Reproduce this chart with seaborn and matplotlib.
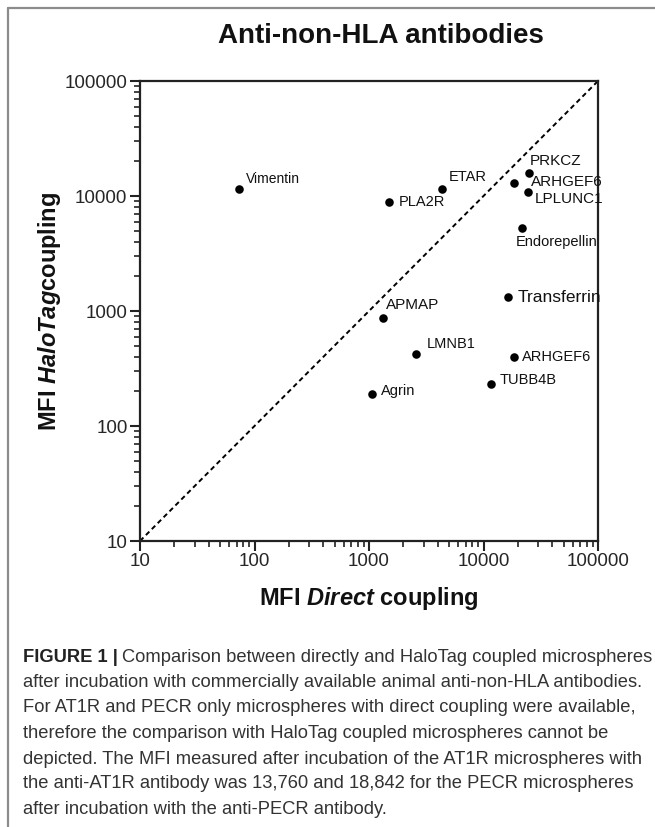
import numpy as np
import pandas as pd
import seaborn as sns
import matplotlib.pyplot as plt
from matplotlib.ticker import LogLocator, FuncFormatter, NullFormatter
from matplotlib.lines import Line2D

# data (MFI values)
proteins = ["Vimentin", "PLA2R", "ETAR", "PRKCZ", "ARHGEF6", "LPLUNC1", "Endorepellin",
            "Transferrin", "APMAP", "LMNB1", "ARHGEF6", "TUBB4B", "Agrin"]
mfi_direct = [73, 1500, 4300, 25100, 18600, 24300, 21800, 16300, 1330, 2580, 18600, 11600, 1060]
mfi_halotag = [11500, 8800, 11500, 15700, 12900, 10800, 5240, 1320, 870, 420, 396, 230, 191]
axis_ticks = [10, 100, 1000, 10000, 100000]

# label placement (pixel offsets from the point)
label_offsets = [(7, 10), (10, 0), (7, 12), (0, 12), (17, 1), (7, -7), (-7, -14),
                 (10, 0), (3, 13), (11, 10), (8, 0), (9, 4), (9, 3)]
label_sizes = [10, 10.5, 10.5, 11, 11, 11, 10.5, 12.5, 11, 10.5, 10.5, 10.5, 10.5]

caption = [
    "Comparison between directly and HaloTag coupled microspheres",
    "after incubation with commercially available animal anti-non-HLA antibodies.",
    "For AT1R and PECR only microspheres with direct coupling were available,",
    "therefore the comparison with HaloTag coupled microspheres cannot be",
    "depicted. The MFI measured after incubation of the AT1R microspheres with",
    "the anti-AT1R antibody was 13,760 and 18,842 for the PECR microspheres",
    "after incubation with the anti-PECR antibody.",
]

sns.set_style("ticks")
plt.rcParams['font.family'] = ['Liberation Sans', 'DejaVu Sans']
plt.rcParams['mathtext.fontset'] = 'custom'
plt.rcParams['mathtext.rm'] = 'Liberation Sans'
plt.rcParams['mathtext.bf'] = 'Liberation Sans:bold'
plt.rcParams['mathtext.bfit'] = 'Liberation Sans:bold:italic'

W, H = 655, 827
fig = plt.figure(figsize=(W / 100, H / 100), dpi=100)
ax = fig.add_axes([140 / W, 1 - 541 / H, 458 / W, 460 / H])

df = pd.DataFrame({"protein": proteins, "direct": mfi_direct, "halotag": mfi_halotag})
sns.scatterplot(data=df, x="direct", y="halotag", color="black", s=38,
                linewidth=0, ax=ax, zorder=3)
ax.set_xscale("log")
ax.set_yscale("log")
ax.set_xlim(axis_ticks[0], axis_ticks[-1])
ax.set_ylim(axis_ticks[0], axis_ticks[-1])
ax.plot([axis_ticks[0], axis_ticks[-1]], [axis_ticks[0], axis_ticks[-1]],
        ls=(0, (2.5, 1.8)), color="black", lw=1.4, zorder=2)

for a in (ax.xaxis, ax.yaxis):
    a.set_major_locator(LogLocator(base=10))
    a.set_major_formatter(FuncFormatter(lambda v, p: f"{int(round(v))}"))
    a.set_minor_locator(LogLocator(base=10, subs=range(2, 10)))
    a.set_minor_formatter(NullFormatter())
ax.tick_params(which="major", length=7, width=1.5, labelsize=13.5, pad=2, color="#222")
ax.tick_params(which="minor", length=4, width=1.2, color="#222")
for sp in ax.spines.values():
    sp.set_linewidth(1.6)
    sp.set_color("#222")
ax.set_xlabel("")
ax.set_ylabel("")

for (name, x, y), (dx, dy), fs in zip(zip(proteins, mfi_direct, mfi_halotag), label_offsets, label_sizes):
    ax.annotate(name, (x, y), xytext=(dx, dy), textcoords="offset pixels",
                ha="left", va="center", fontsize=fs, color="#111", zorder=4)

fig.text(381 / W, 1 - 36 / H, "Anti-non-HLA antibodies", ha="center", va="center",
         fontsize=20, fontweight="bold", color="#111")
fig.text(369 / W, 1 - 598 / H, r"MFI $\mathbfit{Direct}$ coupling", ha="center", va="center",
         fontsize=17, fontweight="bold", color="#111")
fig.text(50 / W, 1 - 311 / H, r"MFI $\mathbfit{HaloTag}$coupling", ha="center", va="center",
         rotation=90, fontsize=17, fontweight="bold", color="#111")

# frame lines of the figure panel
fig.add_artist(Line2D([7.5 / W, 7.5 / W], [0, 1 - 8 / H], transform=fig.transFigure,
                      color="#8c8c8c", lw=1.6))
fig.add_artist(Line2D([7.5 / W, 1], [1 - 8 / H, 1 - 8 / H], transform=fig.transFigure,
                      color="#8c8c8c", lw=1.6))

# caption
line_y = [655, 680.5, 706, 731.5, 757, 782, 807.5]
x0 = 22.7 / W
cap_fs = 13.2
head = fig.text(x0, 1 - line_y[0] / H, "FIGURE 1 |", fontsize=cap_fs, fontweight="bold",
                color="#222", va="center_baseline")
fig.canvas.draw()
bb = head.get_window_extent(renderer=fig.canvas.get_renderer())
fig.text(bb.x1 / W + 4 / W, 1 - line_y[0] / H, caption[0], fontsize=cap_fs, color="#333",
         va="center_baseline")
for yy, txt in zip(line_y[1:], caption[1:]):
    fig.text(x0, 1 - yy / H, txt, fontsize=cap_fs, color="#333", va="center_baseline")

fig.savefig("out.png", dpi=100)
